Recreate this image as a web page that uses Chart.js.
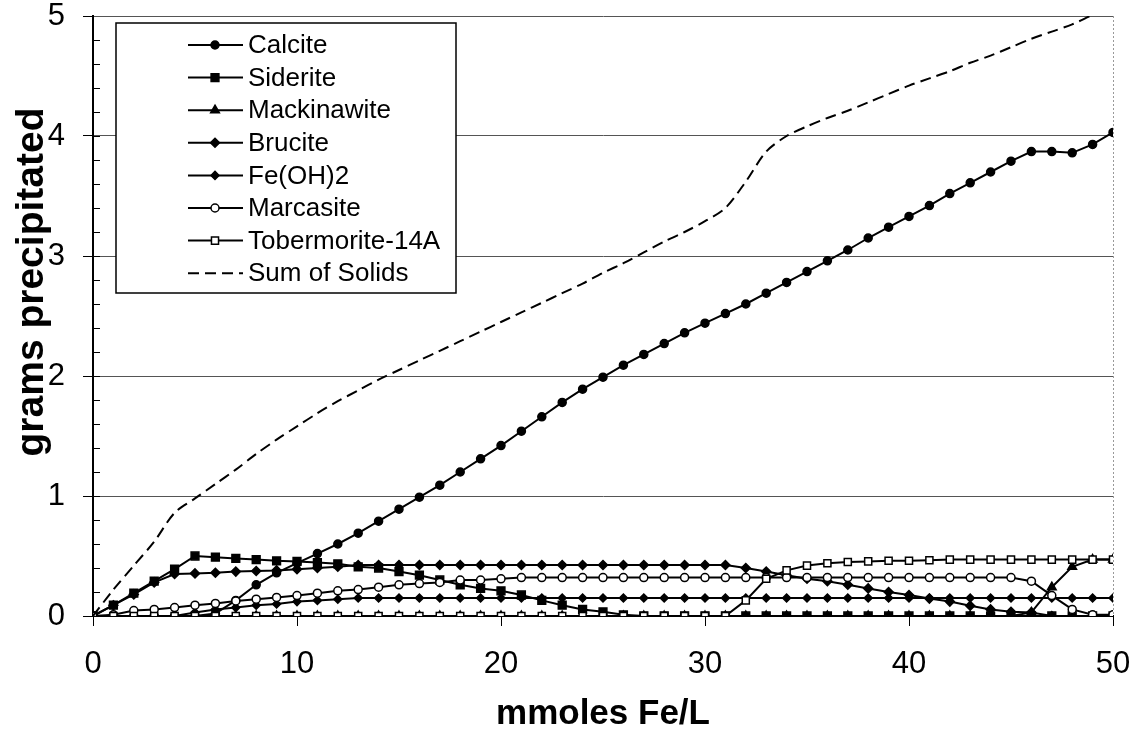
<!DOCTYPE html>
<html>
<head>
<meta charset="utf-8">
<script src="https://cdn.jsdelivr.net/npm/chart.js@4.4.1/dist/chart.umd.min.js"></script>
<style>
    html, body { margin: 0; padding: 0; background: #fff; }
    #wrap { width: 1135px; height: 743px; }
</style>
</head>
<body>
<div id="wrap"><canvas id="precipChart" width="1135" height="743"></canvas></div>
<script>
// mmoles Fe/L added, one step per point
const feAdded = [0, 1, 2, 3, 4, 5, 6, 7, 8, 9, 10, 11, 12, 13, 14, 15, 16, 17, 18, 19, 20,
    21, 22, 23, 24, 25, 26, 27, 28, 29, 30, 31, 32, 33, 34, 35, 36, 37, 38, 39, 40,
    41, 42, 43, 44, 45, 46, 47, 48, 49, 50];

const calcite = [0, 0, 0, 0, 0, 0, 0.02, 0.13, 0.26, 0.36, 0.44, 0.52, 0.6, 0.69, 0.79, 0.89, 0.99, 1.09, 1.2, 1.31, 1.42,
    1.54, 1.66, 1.78, 1.89, 1.99, 2.09, 2.18, 2.27, 2.36, 2.44, 2.52, 2.6, 2.69, 2.78, 2.87, 2.96, 3.05, 3.15, 3.24, 3.33,
    3.42, 3.52, 3.61, 3.7, 3.79, 3.87, 3.87, 3.86, 3.93, 4.03];

const siderite = [0, 0.09, 0.19, 0.29, 0.39, 0.5, 0.49, 0.48, 0.47, 0.46, 0.455, 0.445, 0.435, 0.41, 0.4, 0.37, 0.34, 0.3, 0.26, 0.23, 0.21,
    0.175, 0.13, 0.09, 0.055, 0.035, 0.01, 0, 0, 0, 0, 0, 0, 0, 0, 0, 0, 0, 0, 0, 0,
    0, 0, 0, 0, 0, 0, 0, 0, 0, 0];

const mackinawite = [0, 0, 0, 0, 0, 0, 0, 0, 0, 0, 0, 0, 0, 0, 0, 0, 0, 0, 0, 0, 0,
    0, 0, 0, 0, 0, 0, 0, 0, 0, 0, 0, 0, 0, 0, 0, 0, 0, 0, 0, 0,
    0, 0, 0, 0, 0, 0.03, 0.24, 0.41, 0.47, 0.47];

const brucite = [0, 0.09, 0.18, 0.28, 0.35, 0.355, 0.36, 0.37, 0.375, 0.38, 0.39, 0.4, 0.41, 0.425, 0.425, 0.425, 0.425, 0.425, 0.425, 0.425, 0.425,
    0.425, 0.425, 0.425, 0.425, 0.425, 0.425, 0.425, 0.425, 0.425, 0.425, 0.425, 0.4, 0.37, 0.34, 0.31, 0.29, 0.26, 0.23, 0.2, 0.175,
    0.145, 0.12, 0.085, 0.055, 0.035, 0.03, 0, 0, 0, 0];

const feOH2 = [0, 0, 0, 0, 0, 0.03, 0.055, 0.07, 0.09, 0.1, 0.12, 0.13, 0.14, 0.15, 0.15, 0.15, 0.15, 0.15, 0.15, 0.15, 0.15,
    0.15, 0.15, 0.15, 0.15, 0.15, 0.15, 0.15, 0.15, 0.15, 0.15, 0.15, 0.15, 0.15, 0.15, 0.15, 0.15, 0.15, 0.15, 0.15, 0.15,
    0.15, 0.15, 0.15, 0.15, 0.15, 0.15, 0.15, 0.15, 0.15, 0.15];

const marcasite = [0, 0.01, 0.045, 0.055, 0.07, 0.09, 0.105, 0.125, 0.14, 0.155, 0.17, 0.19, 0.21, 0.22, 0.24, 0.26, 0.27, 0.28, 0.3, 0.3, 0.31,
    0.32, 0.32, 0.32, 0.32, 0.32, 0.32, 0.32, 0.32, 0.32, 0.32, 0.32, 0.32, 0.32, 0.32, 0.32, 0.32, 0.32, 0.32, 0.32, 0.32,
    0.32, 0.32, 0.32, 0.32, 0.32, 0.29, 0.17, 0.055, 0.01, 0.01];

const tobermorite = [0, 0, 0, 0, 0, 0, 0, 0, 0, 0, 0, 0, 0, 0, 0, 0, 0, 0, 0, 0, 0,
    0, 0, 0, 0, 0, 0, 0, 0, 0, 0, 0, 0.13, 0.31, 0.38, 0.42, 0.44, 0.45, 0.455, 0.46, 0.46,
    0.465, 0.47, 0.47, 0.47, 0.47, 0.47, 0.47, 0.47, 0.47, 0.47];

const sumOfSolids = [0, 0.22, 0.42, 0.62, 0.86, 0.98, 1.1, 1.22, 1.35, 1.47, 1.58, 1.69, 1.79, 1.88, 1.97, 2.05, 2.13, 2.21, 2.29, 2.37, 2.45,
    2.53, 2.61, 2.69, 2.77, 2.86, 2.94, 3.03, 3.12, 3.2, 3.29, 3.4, 3.62, 3.87, 4.0, 4.08, 4.15, 4.21, 4.28, 4.35, 4.42,
    4.48, 4.54, 4.61, 4.67, 4.74, 4.81, 4.87, 4.93, 5.01, 5.08];

const yTickValues = [0, 1, 2, 3, 4, 5];
const xTickValues = [0, 10, 20, 30, 40, 50];
const yAxisTitle = 'grams precipitated';
const xAxisTitle = 'mmoles Fe/L';

const FONT = "'Liberation Sans', Arial, sans-serif";

function toPoints(values) {
    return feAdded.map((x, i) => ({ x: x, y: values[i] }));
}

function series(label, values, style, radius, fill, idx) {
    return {
        label: label,
        data: toPoints(values),
        borderColor: '#000',
        borderWidth: 2,
        pointStyle: style,
        pointRadius: radius,
        pointBackgroundColor: fill,
        pointBorderColor: '#000',
        pointBorderWidth: 1.5,
        tension: 0,
        order: 8 - idx
    };
}

const datasets = [
    series('Calcite', calcite, 'circle', 4, '#000', 0),
    series('Siderite', siderite, 'rect', 5.5, '#000', 1),
    series('Mackinawite', mackinawite, 'triangle', 5, '#000', 2),
    series('Brucite', brucite, 'rectRot', 4.5, '#000', 3),
    series('Fe(OH)2', feOH2, 'rectRot', 4, '#000', 4),
    series('Marcasite', marcasite, 'circle', 4, '#fff', 5),
    series('Tobermorite-14A', tobermorite, 'rect', 5, '#fff', 6),
    {
        label: 'Sum of Solids',
        data: toPoints(sumOfSolids),
        borderColor: '#000',
        borderWidth: 2,
        borderDash: [11, 6],
        pointRadius: 0,
        tension: 0.3,
        order: 0
    }
];

// small marker shapes for the legend box
function drawMarker(ctx, style, r, fill, x, y) {
    ctx.beginPath();
    if (style === 'circle') {
        ctx.arc(x, y, r, 0, Math.PI * 2);
    } else if (style === 'rect') {
        const s = r * Math.SQRT1_2;
        ctx.rect(x - s, y - s, 2 * s, 2 * s);
    } else if (style === 'triangle') {
        ctx.moveTo(x, y - r);
        ctx.lineTo(x + r * 0.87, y + r * 0.5);
        ctx.lineTo(x - r * 0.87, y + r * 0.5);
        ctx.closePath();
    } else if (style === 'rectRot') {
        ctx.moveTo(x, y - r);
        ctx.lineTo(x + r, y);
        ctx.lineTo(x, y + r);
        ctx.lineTo(x - r, y);
        ctx.closePath();
    }
    ctx.fillStyle = fill;
    ctx.fill();
    ctx.lineWidth = 1.5;
    ctx.strokeStyle = '#000';
    ctx.stroke();
}

const decorPlugin = {
    id: 'decor',
    afterDraw(chart) {
        const ctx = chart.ctx;
        const area = chart.chartArea;
        const yScale = chart.scales.y;
        ctx.save();

        // right border of the plot area
        ctx.strokeStyle = '#999';
        ctx.lineWidth = 1;
        ctx.setLineDash([2, 2]);
        ctx.beginPath();
        ctx.moveTo(area.right + 0.5, area.top);
        ctx.lineTo(area.right + 0.5, area.bottom);
        ctx.stroke();
        ctx.setLineDash([]);

        // minor ticks on the value axis
        ctx.strokeStyle = '#000';
        ctx.lineWidth = 1;
        for (let v = 0.2; v < 5; v += 0.2) {
            const py = Math.round(yScale.getPixelForValue(v)) + 0.5;
            ctx.beginPath();
            ctx.moveTo(area.left, py);
            ctx.lineTo(area.left + 7, py);
            ctx.stroke();
        }

        // value axis title, sits a little above the middle like the original
        ctx.save();
        ctx.translate(32, 282);
        ctx.rotate(-Math.PI / 2);
        ctx.font = 'bold 39px ' + FONT;
        ctx.fillStyle = '#000';
        ctx.textAlign = 'center';
        ctx.textBaseline = 'middle';
        ctx.fillText(yAxisTitle, 0, 0);
        ctx.restore();

        // legend box
        const box = { left: 116, top: 23, width: 340, height: 270 };
        ctx.fillStyle = '#fff';
        ctx.fillRect(box.left, box.top, box.width, box.height);
        ctx.strokeStyle = '#000';
        ctx.lineWidth = 1.5;
        ctx.strokeRect(box.left, box.top, box.width, box.height);

        ctx.font = '26px ' + FONT;
        ctx.textBaseline = 'middle';
        chart.data.datasets.forEach((ds, i) => {
            const y = 45 + i * 32.6;
            ctx.strokeStyle = '#000';
            ctx.lineWidth = 2;
            ctx.setLineDash(ds.borderDash || []);
            ctx.beginPath();
            ctx.moveTo(188, y);
            ctx.lineTo(243, y);
            ctx.stroke();
            ctx.setLineDash([]);
            if (ds.pointRadius > 0) {
                drawMarker(ctx, ds.pointStyle, ds.pointRadius, ds.pointBackgroundColor, 215, y);
            }
            ctx.fillStyle = '#000';
            ctx.fillText(ds.label, 248, y + 1);
        });
        ctx.restore();
    }
};

new Chart(document.getElementById('precipChart'), {
    type: 'line',
    data: { datasets: datasets },
    options: {
        responsive: false,
        animation: false,
        layout: { padding: { top: 16, right: 22, left: 0, bottom: 0 } },
        plugins: {
            legend: { display: false },
            tooltip: { enabled: false }
        },
        scales: {
            x: {
                type: 'linear',
                min: 0,
                max: 50,
                afterBuildTicks: scale => {
                    scale.ticks = xTickValues.map(v => ({ value: v }));
                },
                afterFit: scale => {
                    scale.height = 127;
                    scale.paddingLeft = 0;
                    scale.paddingRight = 0;
                },
                border: { color: '#000', width: 2 },
                grid: {
                    drawOnChartArea: false,
                    drawTicks: true,
                    tickLength: 10,
                    tickColor: '#000'
                },
                ticks: {
                    color: '#000',
                    padding: 20,
                    maxRotation: 0,
                    font: { family: FONT, size: 31 }
                },
                title: {
                    display: true,
                    text: xAxisTitle,
                    color: '#000',
                    padding: { top: 0, bottom: 8 },
                    font: { family: FONT, size: 35, weight: 'bold' }
                }
            },
            y: {
                type: 'linear',
                min: 0,
                max: 5,
                afterBuildTicks: scale => {
                    scale.ticks = yTickValues.map(v => ({ value: v }));
                },
                afterFit: scale => {
                    scale.width = 93;
                    scale.paddingTop = 0;
                    scale.paddingBottom = 0;
                },
                border: { color: '#000', width: 2 },
                grid: {
                    color: '#555',
                    lineWidth: 1,
                    drawTicks: true,
                    tickLength: 10,
                    tickColor: '#000'
                },
                ticks: {
                    color: '#000',
                    padding: 18,
                    font: { family: FONT, size: 31 }
                },
                title: { display: false }
            }
        }
    },
    plugins: [decorPlugin]
});
</script>
</body>
</html>
